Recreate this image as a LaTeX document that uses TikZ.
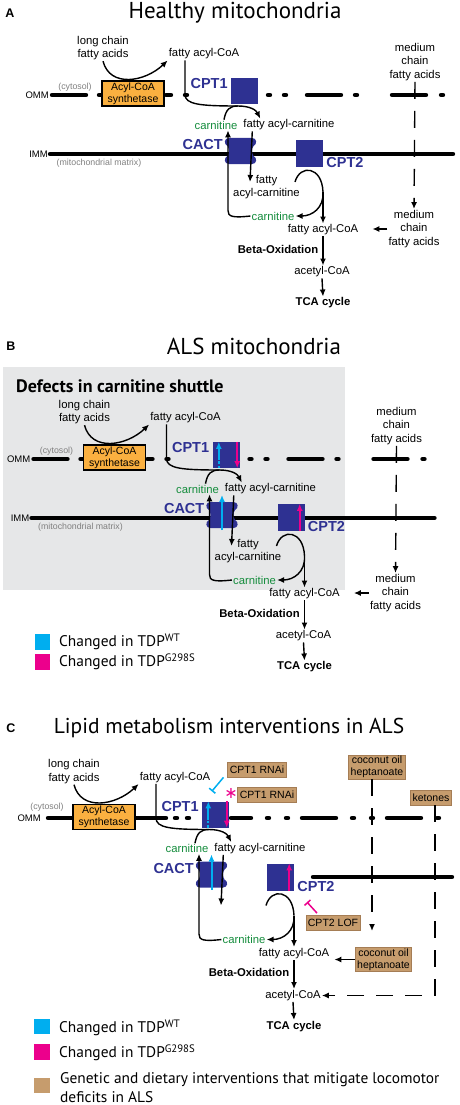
\documentclass[tikz,border=0pt]{standalone}
\usepackage{fontspec}
\setmainfont{Liberation Sans}
\newfontfamily\titlefont{PT Sans}
\newfontfamily\symfont{DejaVu Sans}
\usetikzlibrary{arrows.meta}

\definecolor{cptblue}{RGB}{46,49,146}
\definecolor{acsorange}{RGB}{250,176,64}
\definecolor{carngreen}{RGB}{20,140,60}
\definecolor{tdpwt}{RGB}{0,174,239}
\definecolor{tdpg}{RGB}{236,0,140}
\definecolor{intertan}{RGB}{198,156,109}
\definecolor{tanedge}{RGB}{165,125,85}
\definecolor{shuttlegray}{RGB}{230,231,232}

\tikzset{
  lbl/.style={font=\fontsize{11.3}{13.5}\selectfont, inner sep=1pt, align=center},
  boldlbl/.style={lbl, font=\fontsize{11.3}{13.5}\selectfont\bfseries},
  enz/.style={font=\fontsize{14.5}{15}\selectfont\bfseries, text=cptblue, inner sep=0pt},
  enzbox/.style={fill=cptblue, minimum width=27pt, minimum height=26pt, inner sep=0pt},
  synbox/.style={fill=acsorange, draw=black, line width=1.5pt, minimum width=62pt, minimum height=25pt, inner sep=0pt, align=center, font=\fontsize{10.5}{12}\selectfont},
  tanbox/.style={fill=intertan, draw=tanedge, line width=0.8pt, inner xsep=2pt, inner ysep=1pt, minimum height=15pt, align=center, font=\fontsize{10.5}{12}\selectfont},
  flow/.style={line width=1.4pt},
  arr/.style={flow, -{Latex[length=7pt,width=6pt]}},
  dsh/.style={arr, dash pattern=on 17pt off 12pt},
  memb/.style={line width=4.4pt, line cap=round},
  membtxt/.style={font=\fontsize{9.5}{10}\selectfont, inner sep=0pt},
  sidetxt/.style={font=\fontsize{8.8}{10}\selectfont, text=gray, inner sep=0pt},
  paneltitle/.style={font=\titlefont\fontsize{23}{26}\selectfont, inner sep=0pt},
  panellbl/.style={font=\fontsize{12.5}{14}\selectfont\bfseries, inner sep=0pt},
  boxhead/.style={font=\titlefont\fontsize{18}{20}\selectfont\bfseries, inner sep=0pt},
  wtline/.style={draw=tdpwt, line width=2pt},
  wtarr/.style={wtline, -{Latex[length=7pt,width=6pt]}},
  garr/.style={draw=tdpg, line width=2pt, -{Latex[length=7pt,width=6pt]}},
  inhibwt/.style={draw=tdpwt, line width=1.5pt, -{Bar[width=8pt,line width=1.5pt]}},
  inhibg/.style={draw=tdpg, line width=1.5pt, -{Bar[width=8pt,line width=1.5pt]}},
  legsq/.style={minimum size=15.5pt, inner sep=0pt},
  legtxt/.style={font=\titlefont\fontsize{15.4}{19}\selectfont, inner sep=0pt, align=left}
}

% membranes of panels A and B
\newcommand{\membranes}{%
  \node[membtxt, anchor=east] (omm) at (49,95) {OMM};
  \node[sidetxt] (cyto) at (75,87) {(cytosol)};
  \foreach \a/\b in {52/86,99/101,166/171,185/187,268/270,284/286,307/341,355/357,392/426,441/443}
    \draw[memb] (\a,95) -- (\b,95);
  \node[membtxt, anchor=east] (imm) at (48,154) {IMM};
  \node[sidetxt] (matrix) at (99,163) {(mitochondrial matrix)};
  \draw[memb] ([xshift=2pt]imm.east) -- ++(403,0);
}

% carnitine shuttle and beta-oxidation
\newcommand{\shuttle}{%
  \node[lbl] (lcfa) at (103,48) {long chain\\fatty acids};
  \node[lbl] (facoa) at (204,54) {fatty acyl-CoA};
  \node[synbox] (acs) at (133,93.5) {Acyl-CoA\\synthetase};
  \draw[arr] (lcfa.south) .. controls (110,88) and (145,82) .. (facoa.south west);
  \node[enzbox] (cpt1) at (244.5,91) {};
  \node[enz, anchor=north east] (cpt1lab) at ([xshift=-3pt]cpt1.north west) {CPT1};
  \node[lbl, text=carngreen] (carn1) at (216,125) {carnitine};
  \node[lbl] (fac1) at (289,125) {fatty acyl-carnitine};
  \coordinate (cmerge) at (238,106);
  \draw[flow] ([xshift=-19pt]facoa.south) -- ++(0,34) .. controls ++(0,10) and (200,106) .. (cmerge);
  \draw[arr] ([xshift=8pt]carn1.north) .. controls (226,109) and (230,106) .. (cmerge) .. controls (250,106) and (256,110) .. ([xshift=18pt]fac1.north west);
  \coordinate (cact) at (240.5,151);
  \fill[cptblue] (229,138) -- (252,138) .. controls (257,138) and (257.5,144) .. (253.5,146)
    .. controls (251.5,149) and (251.5,153) .. (253.5,156) .. controls (257.5,158) and (257,164) .. (252,164)
    -- (229,164) .. controls (224,164) and (223.5,158) .. (227.5,156) .. controls (229.5,153) and (229.5,149) .. (227.5,146)
    .. controls (223.5,144) and (224,138) .. (229,138) -- cycle;
  \node[enz, anchor=east] (cactlab) at (223,145) {CACT};
  \node[lbl, text=carngreen] (carn2) at (273,216) {carnitine};
  \draw[arr] (carn2.west) .. controls +(-18,2) and +(0,6) .. ([xshift=12pt]carn1.south |- carn2.north) -- ([xshift=12pt]carn1.south);
  \coordinate (fac2in) at (250,182);
  \draw[arr] ([xshift=10pt]fac1.south west) -- (fac2in);
  \node[enzbox, minimum height=27pt] (cpt2) at (309.5,153.5) {};
  \node[enz, anchor=west] (cpt2lab) at ([xshift=3pt,yshift=-9pt]cpt2.east) {CPT2};
  \node[lbl] (facoa2) at (323,230) {fatty acyl-CoA};
  \coordinate (c2start) at (295,182);
  \coordinate (c2mid) at (323,192);
  \draw[flow] (c2start) .. controls (300,164) and (322,166) .. (c2mid);
  \draw[arr] (c2mid) .. controls (324,208) and (312,216) .. (carn2.east);
  \draw[arr] (c2mid) -- (facoa2.north);
  \node[boldlbl] (beta) at (278,249) {Beta-Oxidation};
  \node[lbl] (acetyl) at (322,272) {acetyl-CoA};
  \node[boldlbl] (tca) at (323,303) {TCA cycle};
  \draw[arr] (facoa2.south) -- (facoa2.south |- acetyl.north);
  \draw[arr] (acetyl.south) -- (tca.north);
}

% medium chain entry, panels A and B
\newcommand{\mediumchain}{%
  \node[lbl] (mcfa1) at (415,62) {medium\\chain\\fatty acids};
  \node[lbl] (mcfa2) at (414,229) {medium\\chain\\fatty acids};
  \draw[dsh] (mcfa1.south) -- (mcfa2.north);
  \draw[arr] (mcfa2.west) -- ([xshift=13pt]facoa2.east |- mcfa2.west);
}

% changes in TDP-43 flies
\newcommand{\tdparrows}{%
  \draw[wtline, dash pattern=on 2.5pt off 2pt] ([xshift=6.5pt]cpt1.south west) -- ([xshift=6.5pt,yshift=-4pt]cpt1.west);
  \draw[wtarr] ([xshift=6.5pt,yshift=-4pt]cpt1.west) -- ([xshift=6.5pt]cpt1.north west);
  \draw[garr] ([xshift=-2.5pt]cpt1.north east) -- ([xshift=-2.5pt]cpt1.south east);
  \draw[wtarr] ([yshift=-15pt]cact) -- ([yshift=20pt]cact);
  \draw[garr] ([xshift=-5pt]cpt2.south east) -- ([xshift=-5pt]cpt2.north east);
}

\begin{document}
\begin{tikzpicture}[x=1pt, y=-1pt]
\useasboundingbox (0,0) rectangle (459,1105);

% A
\node[panellbl] (alab) at (10,13) {A};
\node[paneltitle] (atitle) at (235,13) {Healthy mitochondria};
\begin{scope}[name prefix=a-]
  \membranes
  \shuttle
  \mediumchain
  \node[lbl] (fac2) at (266.5,187) {fatty\\acyl-carnitine};
\end{scope}

% B
\node[panellbl] (blab) at (11,346) {B};
\node[paneltitle] (btitle) at (254,346) {ALS mitochondria};
\fill[shuttlegray] (3,367) rectangle (345,590);
\node[boxhead, anchor=west] (defects) at (16,386) {Defects in carnitine shuttle};
\begin{scope}[shift={(-18.5,364)}, name prefix=b-]
  \membranes
  \shuttle
  \mediumchain
  \node[lbl] (fac2) at (266.5,187) {fatty\\acyl-carnitine};
  \tdparrows
\end{scope}
\node[legsq, fill=tdpwt] (bwt) at (42.5,642) {};
\node[legtxt, anchor=west] (bwttxt) at (59,642) {Changed in TDP\textsuperscript{WT}};
\node[legsq, fill=tdpg] (bg) at (42.5,662) {};
\node[legtxt, anchor=west] (bgtxt) at (59,662) {Changed in TDP\textsuperscript{G298S}};

% C
\node[panellbl] (clab) at (11,728) {C};
\node[paneltitle, font=\titlefont\fontsize{21.5}{24}\selectfont] (ctitle) at (229,728) {Lipid metabolism interventions in ALS};
\node[membtxt, anchor=east] (comm) at (41,818) {OMM};
\node[sidetxt] (ccyto) at (47,807) {(cytosol)};
\foreach \a/\b in {48/166,175/177,187/189,231/251,267/269,286/288,302/336,352/354,371/373,387/421,437/439}
  \draw[memb] (\a,818) -- (\b,818);
\draw[memb] (313,877) -- (452,877);
\begin{scope}[shift={(-29,723.5)}, name prefix=c-]
  \shuttle
  \tdparrows
\end{scope}
\node[tanbox] (rnai1) at (257,769.5) {CPT1 RNAi};
\node[tanbox] (rnai2) at (267,794.5) {CPT1 RNAi};
\node[text=tdpg, font=\symfont\fontsize{16}{16}\selectfont, inner sep=0pt] (ast) at (231,793) {∗};
\draw[inhibwt] ([xshift=-4pt]rnai1.south west) -- ([xshift=10pt,yshift=10pt]c-cpt1.north west);
\node[tanbox] (coco1) at (377,767) {coconut oil\\heptanoate};
\node[tanbox] (ketones) at (431,797.5) {ketones};
\node[tanbox] (cptlof) at (333,923) {CPT2 LOF};
\node[tanbox] (coco2) at (383.5,959.5) {coconut oil\\heptanoate};
\coordinate (cocoend) at (372,931);
\draw[dsh] ([xshift=-5pt]coco1.south) -- (cocoend);
\draw[dsh] ([xshift=4pt]ketones.south) |- (c-acetyl.east);
\draw[arr] (coco2.west) -- ([xshift=4pt]c-facoa2.east |- coco2.west);
\draw[inhibg] ([xshift=-16pt,yshift=2pt]cptlof.north) -- ([xshift=-26pt,yshift=13pt]cptlof.north);
\node[legsq, fill=tdpwt] (cwt) at (42,1026.5) {};
\node[legtxt, anchor=west] (cwttxt) at (59,1028) {Changed in TDP\textsuperscript{WT}};
\node[legsq, fill=tdpg] (cg) at (42,1052) {};
\node[legtxt, anchor=west] (cgtxt) at (59,1053) {Changed in TDP\textsuperscript{G298S}};
\node[legsq, fill=intertan] (ctan) at (42,1085.5) {};
\node[legtxt, anchor=west] (ctantxt) at (60,1087.5) {Genetic and dietary interventions that mitigate locomotor\\deficits in ALS};
\end{tikzpicture}
\end{document}
